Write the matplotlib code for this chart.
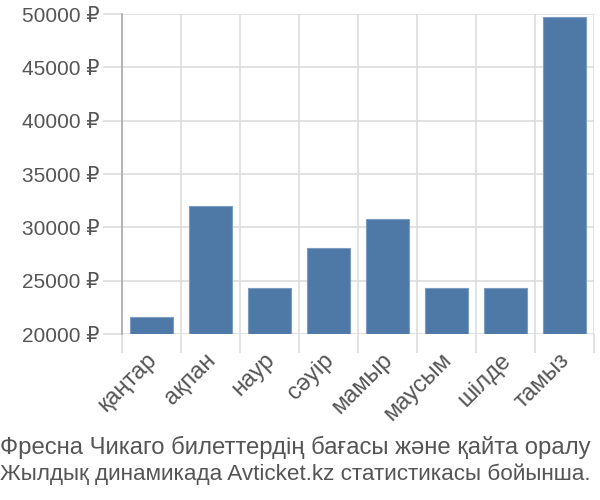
import matplotlib
matplotlib.use("Agg")
import matplotlib.pyplot as plt
import matplotlib.transforms as mtransforms
import numpy as np

# Данные по месяцам
months = ["қаңтар", "ақпан", "наур", "сәуір", "мамыр", "маусым", "шілде", "тамыз"]
prices = [21600, 32000, 24300, 28050, 30750, 24300, 24300, 49750]
y_ticks = [20000, 25000, 30000, 35000, 40000, 45000, 50000]
caption = ["Фресна Чикаго билеттердің бағасы және қайта оралу",
           "Жылдық динамикада Avticket.kz статистикасы бойынша."]

plt.rcParams['font.family'] = ['Liberation Sans', 'DejaVu Sans']

fig = plt.figure(figsize=(6, 5), dpi=100)
ax = fig.add_axes([122 / 600, 1 - 334 / 500, 472 / 600, 320 / 500])

x = np.arange(len(months))
ax.bar(x, np.array(prices) - 20000, bottom=20000, width=0.72,
       color="#4e79a7", edgecolor="#7d9cc2", linewidth=0.8, zorder=3)

ax.set_xlim(-0.5, len(months) - 0.5)
ax.set_ylim(20000, 50000)

# Границы категорий — основные тики, подписи — второстепенные
ax.set_xticks(np.arange(-0.5, len(months), 1))
ax.set_xticklabels([])
ax.set_xticks(x, minor=True)
ax.set_xticklabels(months, minor=True, rotation=45, ha="right",
                   rotation_mode="anchor", fontsize=17, color="#555555")
ax.tick_params(axis="x", which="major", length=14, color="#dddddd", width=1.2)
ax.tick_params(axis="x", which="minor", length=0, pad=8)
shift = mtransforms.ScaledTranslation(-6 / 100, -4 / 100, fig.dpi_scale_trans)
for lbl in ax.get_xticklabels(minor=True):
    lbl.set_transform(lbl.get_transform() + shift)

ax.set_yticks(y_ticks)
ax.set_yticklabels([f"{v} ₽" for v in y_ticks], fontsize=15, color="#555555")
ax.tick_params(axis="y", length=14, color="#dddddd", width=1.2, pad=2)

ax.grid(True, which="major", color="#dddddd", linewidth=1.2, zorder=0)
for s in ["top", "right", "bottom"]:
    ax.spines[s].set_visible(False)
ax.spines["left"].set_color("#aaaaaa")
ax.spines["left"].set_linewidth(1.2)
ax.spines["left"].set_bounds(20000, 50000)

fig.text(0.0, 1 - 447 / 500, caption[0], fontsize=17.2, color="#555555",
         ha="left", va="center")
fig.text(0.0, 1 - 474 / 500, caption[1], fontsize=16.2, color="#555555",
         ha="left", va="center")

plt.savefig("out.png", dpi=100)
plt.close()
